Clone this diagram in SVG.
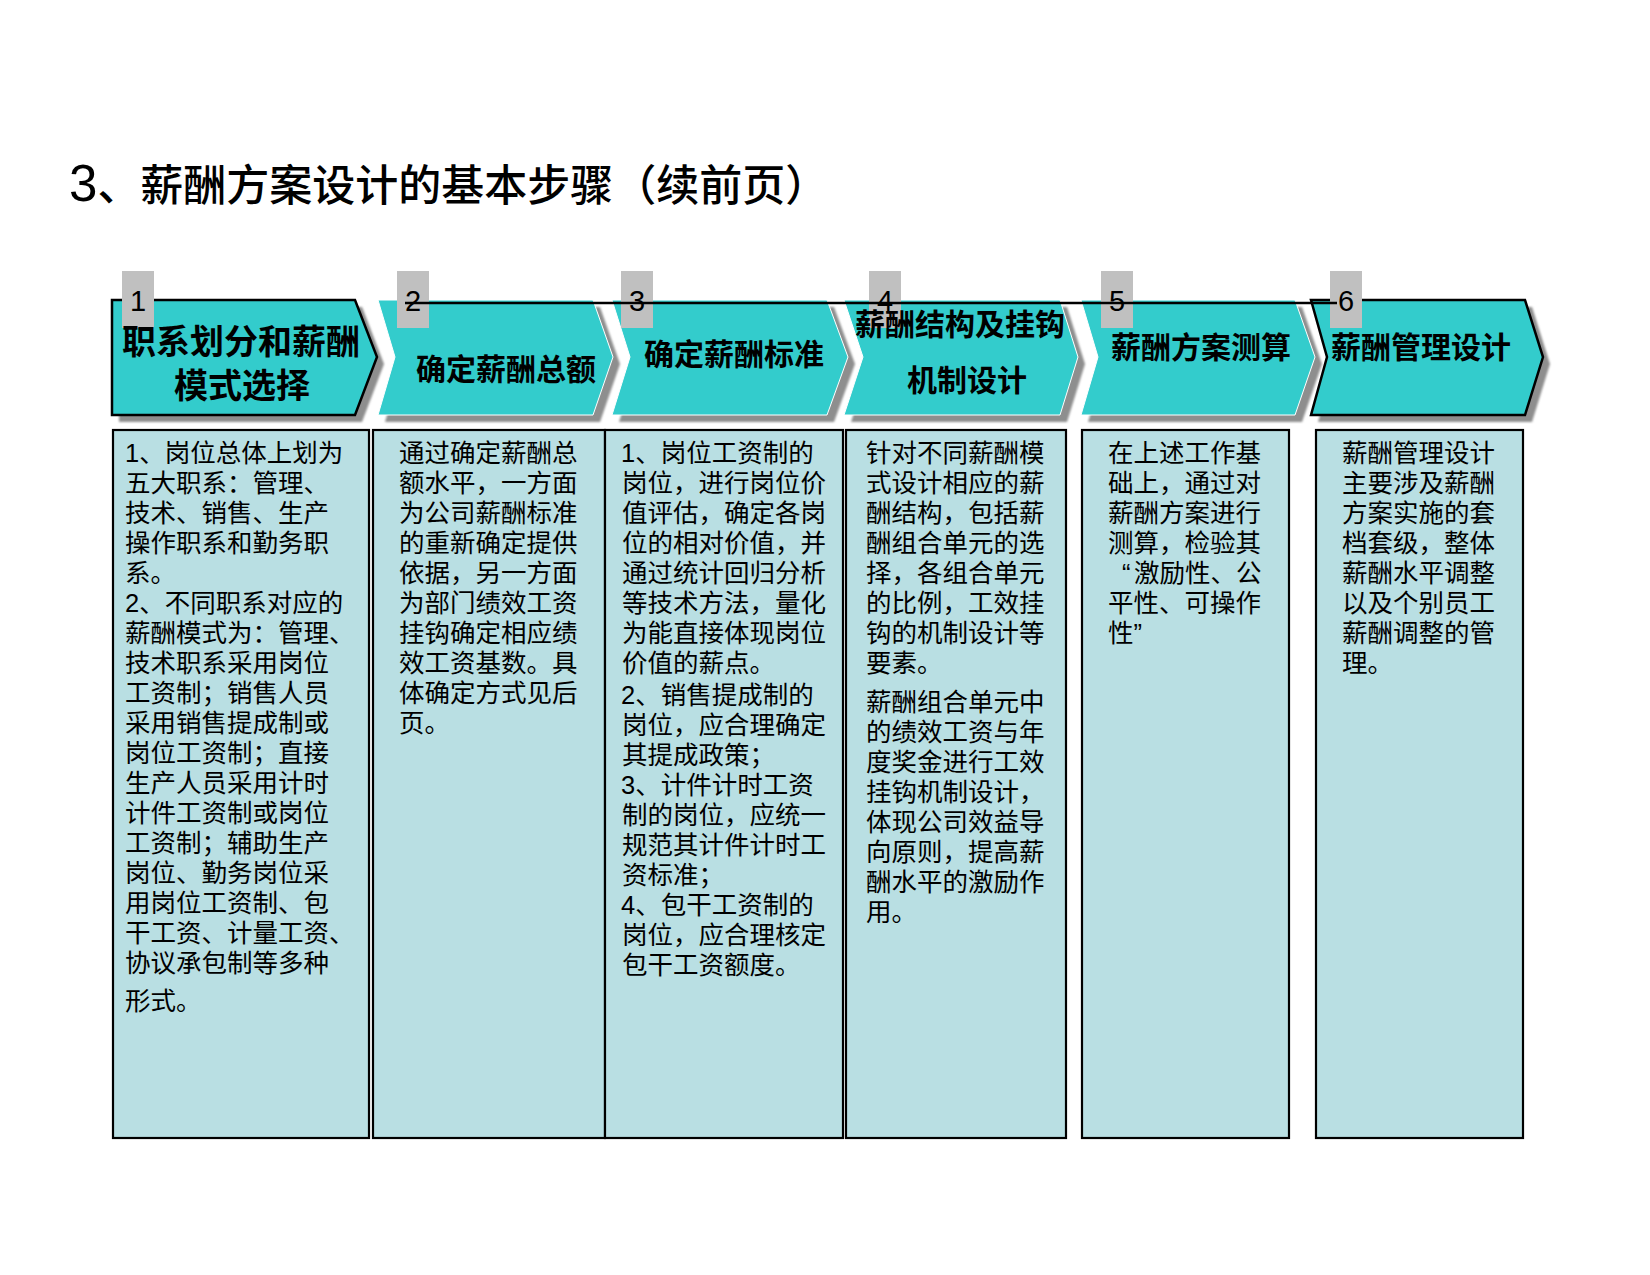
<svg xmlns="http://www.w3.org/2000/svg" width="1650" height="1275" viewBox="0 0 1650 1275">
<defs>
<style>
.title{font-family:"Liberation Sans","Noto Sans CJK SC",sans-serif;font-size:43px;font-weight:500;fill:#000}
.chev{fill:#33CCCC}
.chev-b{fill:#33CCCC;stroke:#000;stroke-width:2.5;stroke-linejoin:miter}
.chev-w{fill:#33CCCC;stroke:#FFFFFF;stroke-width:1}
.shadow{fill:#8E8E8E}
.num-box{fill:#C0C0C0}
.num{font-family:"Liberation Sans","DejaVu Sans",sans-serif;font-size:29px;fill:#000;text-anchor:middle}
.lbl{font-family:"Noto Sans CJK SC",sans-serif;font-size:30px;font-weight:bold;fill:#000;text-anchor:middle}
.lbl1{font-family:"Noto Sans CJK SC",sans-serif;font-size:34px;font-weight:bold;fill:#000;text-anchor:middle}
.box{fill:#B9DFE3;stroke:#000;stroke-width:2.2}
.body{font-family:"Liberation Sans","Noto Sans CJK SC",sans-serif;font-size:25.5px;fill:#000}
.conn{stroke:#000;stroke-width:2.5;fill:none}
</style>
<filter id="soft" x="-5%" y="-5%" width="110%" height="115%">
<feGaussianBlur stdDeviation="1.1"/>
</filter>
</defs>
<rect width="1650" height="1275" fill="#FFFFFF"/>

<text class="title" x="69" y="201"><tspan font-size="51">3</tspan>、薪酬方案设计的基本步骤（续前页）</text>

<!-- shadows -->
<g id="shadows" filter="url(#soft)" class="shadow">
<polygon points="119,307 362,307 384,364 362,422 119,422"/>
<polygon points="385,307 600,307 620,364 600,422 385,422 402,364"/>
<polygon points="619,307 834,307 855,364 834,422 619,422 637,364"/>
<polygon points="851,307 1067,307 1085,364 1067,422 851,422 870,364"/>
<polygon points="1088,307 1302,307 1322,364 1302,422 1088,422 1105,364"/>
<polygon points="1318,307 1532,307 1550,364 1532,422 1318,422 1334,364"/>
</g>

<g id="step1">
<polygon class="chev-b" points="112,300 355,300 377,357 355,415 112,415"/>
<rect class="num-box" x="122" y="271" width="32" height="57"/>
<text class="num" x="138" y="311">1</text>
<text class="lbl1" x="241" y="354">职系划分和薪酬</text>
<text class="lbl1" x="242" y="398">模式选择</text>
</g>

<g id="step2">
<polygon class="chev-w" points="378,300 593,300 613,357 593,415 378,415 395,357"/>
<rect class="num-box" x="397" y="271" width="32" height="57"/>
<text class="num" x="413" y="311">2</text>
<text class="lbl" x="506" y="380">确定薪酬总额</text>
</g>

<g id="step3">
<polygon class="chev-w" points="612,300 827,300 848,357 827,415 612,415 630,357"/>
<rect class="num-box" x="621" y="271" width="32" height="57"/>
<text class="num" x="637" y="311">3</text>
<text class="lbl" x="734" y="365">确定薪酬标准</text>
</g>

<g id="step4">
<polygon class="chev-w" points="844,300 1060,300 1078,357 1060,415 844,415 863,357"/>
<rect class="num-box" x="869" y="271" width="32" height="57"/>
<text class="num" x="885" y="311">4</text>
<text class="lbl" x="960" y="335">薪酬结构及挂钩</text>
<text class="lbl" x="967" y="391">机制设计</text>
</g>

<g id="step5">
<polygon class="chev-w" points="1081,300 1295,300 1315,357 1295,415 1081,415 1098,357"/>
<rect class="num-box" x="1101" y="271" width="32" height="57"/>
<text class="num" x="1117" y="311">5</text>
<text class="lbl" x="1201" y="358">薪酬方案测算</text>
</g>

<g id="step6">
<polygon class="chev-b" points="1311,300 1525,300 1543,357 1525,415 1311,415 1327,357"/>
<rect class="num-box" x="1330" y="271" width="32" height="57"/>
<text class="num" x="1346" y="311">6</text>
<text class="lbl" x="1421" y="358">薪酬管理设计</text>
</g>

<g id="connectors">
<line class="conn" x1="405" y1="303" x2="1337" y2="303"/>
</g>

<g id="box1">
<rect class="box" x="113" y="430" width="256" height="708"/>
<text class="body" x="125" y="462">1、岗位总体上划为</text>
<text class="body" x="125" y="492">五大职系：管理、</text>
<text class="body" x="125" y="522">技术、销售、生产</text>
<text class="body" x="125" y="552">操作职系和勤务职</text>
<text class="body" x="125" y="582">系。</text>
<text class="body" x="125" y="612">2、不同职系对应的</text>
<text class="body" x="125" y="642">薪酬模式为：管理、</text>
<text class="body" x="125" y="672">技术职系采用岗位</text>
<text class="body" x="125" y="702">工资制；销售人员</text>
<text class="body" x="125" y="732">采用销售提成制或</text>
<text class="body" x="125" y="762">岗位工资制；直接</text>
<text class="body" x="125" y="792">生产人员采用计时</text>
<text class="body" x="125" y="822">计件工资制或岗位</text>
<text class="body" x="125" y="852">工资制；辅助生产</text>
<text class="body" x="125" y="882">岗位、勤务岗位采</text>
<text class="body" x="125" y="912">用岗位工资制、包</text>
<text class="body" x="125" y="942">干工资、计量工资、</text>
<text class="body" x="125" y="972">协议承包制等多种</text>
<text class="body" x="125" y="1010">形式。</text>
</g>

<g id="box2">
<rect class="box" x="373" y="430" width="232" height="708"/>
<text class="body" x="399" y="462">通过确定薪酬总</text>
<text class="body" x="399" y="492">额水平，一方面</text>
<text class="body" x="399" y="522">为公司薪酬标准</text>
<text class="body" x="399" y="552">的重新确定提供</text>
<text class="body" x="399" y="582">依据，另一方面</text>
<text class="body" x="399" y="612">为部门绩效工资</text>
<text class="body" x="399" y="642">挂钩确定相应绩</text>
<text class="body" x="399" y="672">效工资基数。具</text>
<text class="body" x="399" y="702">体确定方式见后</text>
<text class="body" x="399" y="732">页。</text>
</g>

<g id="box3">
<rect class="box" x="605" y="430" width="238" height="708"/>
<text class="body" x="621" y="462">1、岗位工资制的</text>
<text class="body" x="622" y="492">岗位，进行岗位价</text>
<text class="body" x="622" y="522">值评估，确定各岗</text>
<text class="body" x="622" y="552">位的相对价值，并</text>
<text class="body" x="622" y="582">通过统计回归分析</text>
<text class="body" x="622" y="612">等技术方法，量化</text>
<text class="body" x="622" y="642">为能直接体现岗位</text>
<text class="body" x="622" y="672">价值的薪点。</text>
<text class="body" x="621" y="704">2、销售提成制的</text>
<text class="body" x="622" y="734">岗位，应合理确定</text>
<text class="body" x="622" y="764">其提成政策；</text>
<text class="body" x="621" y="794">3、计件计时工资</text>
<text class="body" x="622" y="824">制的岗位，应统一</text>
<text class="body" x="622" y="854">规范其计件计时工</text>
<text class="body" x="622" y="884">资标准；</text>
<text class="body" x="621" y="914">4、包干工资制的</text>
<text class="body" x="622" y="944">岗位，应合理核定</text>
<text class="body" x="622" y="974">包干工资额度。</text>
</g>

<g id="box4">
<rect class="box" x="846" y="430" width="220" height="708"/>
<text class="body" x="866" y="462">针对不同薪酬模</text>
<text class="body" x="866" y="492">式设计相应的薪</text>
<text class="body" x="866" y="522">酬结构，包括薪</text>
<text class="body" x="866" y="552">酬组合单元的选</text>
<text class="body" x="866" y="582">择，各组合单元</text>
<text class="body" x="866" y="612">的比例，工效挂</text>
<text class="body" x="866" y="642">钩的机制设计等</text>
<text class="body" x="866" y="672">要素。</text>
<text class="body" x="866" y="711">薪酬组合单元中</text>
<text class="body" x="866" y="741">的绩效工资与年</text>
<text class="body" x="866" y="771">度奖金进行工效</text>
<text class="body" x="866" y="801">挂钩机制设计，</text>
<text class="body" x="866" y="831">体现公司效益导</text>
<text class="body" x="866" y="861">向原则，提高薪</text>
<text class="body" x="866" y="891">酬水平的激励作</text>
<text class="body" x="866" y="921">用。</text>
</g>

<g id="box5">
<rect class="box" x="1082" y="430" width="207" height="708"/>
<text class="body" x="1108" y="462">在上述工作基</text>
<text class="body" x="1108" y="492">础上，通过对</text>
<text class="body" x="1108" y="522">薪酬方案进行</text>
<text class="body" x="1108" y="552">测算，检验其</text>
<text class="body" y="582"><tspan x="1122">“</tspan><tspan x="1134">激励性、公</tspan></text>
<text class="body" x="1108" y="612">平性、可操作</text>
<text class="body" x="1108" y="642">性”</text>
</g>

<g id="box6">
<rect class="box" x="1316" y="430" width="207" height="708"/>
<text class="body" x="1342" y="462">薪酬管理设计</text>
<text class="body" x="1342" y="492">主要涉及薪酬</text>
<text class="body" x="1342" y="522">方案实施的套</text>
<text class="body" x="1342" y="552">档套级，整体</text>
<text class="body" x="1342" y="582">薪酬水平调整</text>
<text class="body" x="1342" y="612">以及个别员工</text>
<text class="body" x="1342" y="642">薪酬调整的管</text>
<text class="body" x="1342" y="672">理。</text>
</g>
</svg>
